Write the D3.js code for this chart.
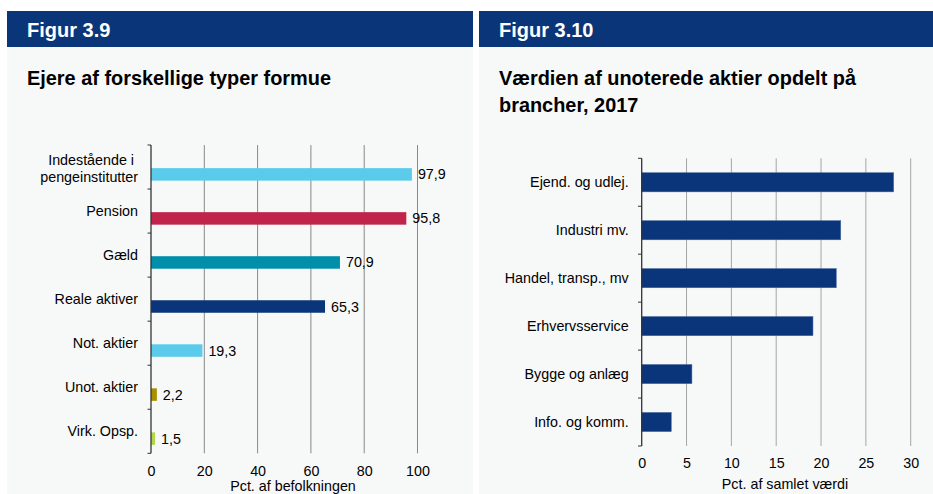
<!DOCTYPE html>
<html><head><meta charset="utf-8">
<script src="https://cdn.jsdelivr.net/npm/d3@7"></script>
<style>
html,body{margin:0;padding:0;background:#fff;}
svg{display:block;font-family:"Liberation Sans",Arial,sans-serif;}
</style></head>
<body>
<svg id="c" width="933" height="494"></svg>
<script>
// ---- Data ----
const leftCategories = ["Indestående i |pengeinstitutter","Pension","Gæld","Reale aktiver","Not. aktier","Unot. aktier","Virk. Opsp."];
const leftValues = [97.9, 95.8, 70.9, 65.3, 19.3, 2.2, 1.5];
const leftLabels = ["97,9","95,8","70,9","65,3","19,3","2,2","1,5"];
const leftColors = ["#5bcbeb","#c0244a","#008fab","#0b357a","#5bcbeb","#a88f00","#b3d647"];
const leftTicks = [0,20,40,60,80,100];
const leftAxisTitle = "Pct. af befolkningen";

const rightCategories = ["Ejend. og udlej.","Industri mv.","Handel, transp., mv","Erhvervsservice","Bygge og anlæg","Info. og komm."];
const rightValues = [28.1, 22.2, 21.7, 19.1, 5.6, 3.3];
const rightTicks = [0,5,10,15,20,25,30];
const rightAxisTitle = "Pct. af samlet værdi";

const svg = d3.select("#c");
const navy = "#0a3679";
const panelBg = "#f7f8f8";
const FS = 14.3;

// ---- Panels ----
function panel(x0, x1, figText, titleLines){
  svg.append("rect").attr("x",x0).attr("y",47).attr("width",x1-x0).attr("height",447).attr("fill",panelBg);
  svg.append("rect").attr("x",x0).attr("y",11).attr("width",x1-x0).attr("height",36).attr("fill",navy);
  svg.append("text").attr("x",x0+20).attr("y",36.5).attr("fill","#fff")
    .attr("font-size",20).attr("font-weight","bold").text(figText);
  titleLines.forEach((t,i)=>{
    svg.append("text").attr("x",x0+20).attr("y",85+i*26.5).attr("fill","#000")
      .attr("font-size",19.9).attr("font-weight","bold").text(t);
  });
}
panel(7, 473, "Figur 3.9", ["Ejere af forskellige typer formue"]);
panel(479, 933, "Figur 3.10", ["Værdien af unoterede aktier opdelt på","brancher, 2017"]);

// ---- Left chart ----
{
  const x = d3.scaleLinear().domain([0,100]).range([151,417.5]);
  const y = d3.scaleBand().domain(leftCategories).range([145,453.3]).padding(0);
  const bw = y.bandwidth();
  const g = svg.append("g");
  g.selectAll(".grid").data(leftTicks.filter(d=>d>0)).enter().append("line")
    .attr("x1",d=>x(d)).attr("x2",d=>x(d)).attr("y1",145).attr("y2",453.3)
    .attr("stroke","#888").attr("stroke-width",1);
  g.selectAll(".bar").data(leftCategories).enter().append("rect")
    .attr("x",x(0)).attr("y",(d)=>y(d)+bw*0.525)
    .attr("width",(d,i)=>x(leftValues[i])-x(0)).attr("height",12.5)
    .attr("fill",(d,i)=>leftColors[i]);
  g.selectAll(".val").data(leftCategories).enter().append("text")
    .attr("x",(d,i)=>x(leftValues[i])+6).attr("y",d=>y(d)+bw*0.525+6.25)
    .attr("dy","0.35em").attr("font-size",FS).attr("fill","#000")
    .text((d,i)=>leftLabels[i]);
  g.append("line").attr("x1",151).attr("x2",151).attr("y1",145).attr("y2",453.3).attr("stroke","#333").attr("stroke-width",1.3);
  const bounds = [y.range()[0]].concat(leftCategories.map(d=>y(d)+bw));
  g.selectAll(".ytick").data(bounds).enter().append("line")
    .attr("x1",147.5).attr("x2",151).attr("y1",d=>d).attr("y2",d=>d).attr("stroke","#333");
  leftCategories.forEach(c=>{
    const lines = c.split("|");
    const cy = y(c)+bw/2 - (lines.length>1 ? 7 : 0);
    const t = g.append("text").attr("text-anchor","end").attr("font-size",FS).attr("fill","#000")
      .attr("xml:space","preserve").style("white-space","pre");
    lines.forEach((ln,i)=>{
      t.append("tspan").attr("x",138).attr("y",cy + i*16.5).attr("dy","0.35em").text(ln);
    });
  });
  const xa = d3.axisBottom(x).tickValues(leftTicks).tickSize(0).tickPadding(0);
  const xg = g.append("g").attr("transform","translate(0,466)").call(xa);
  xg.select(".domain").remove();
  xg.selectAll("text").attr("font-size",FS).attr("fill","#000").attr("font-family","Liberation Sans, Arial, sans-serif").attr("dy","0.71em");
  g.append("text").attr("x",293).attr("y",486).attr("dy","0.35em").attr("text-anchor","middle")
    .attr("font-size",FS).attr("fill","#000").text(leftAxisTitle);
}

// ---- Right chart ----
{
  const x = d3.scaleLinear().domain([0,30]).range([641.7,910.7]);
  const y = d3.scaleBand().domain(rightCategories).range([158.3,446]).paddingInner(0.6).paddingOuter(0.3);
  const yb = d3.scaleBand().domain(rightCategories).range([158.3,446]).padding(0);
  const g = svg.append("g");
  g.selectAll(".grid").data(rightTicks.filter(d=>d>0)).enter().append("line")
    .attr("x1",d=>x(d)).attr("x2",d=>x(d)).attr("y1",158.3).attr("y2",446)
    .attr("stroke","#a6a6a6").attr("stroke-width",1);
  g.selectAll(".bar").data(rightCategories).enter().append("rect")
    .attr("x",x(0)).attr("y",d=>y(d))
    .attr("width",(d,i)=>x(rightValues[i])-x(0)).attr("height",y.bandwidth())
    .attr("fill","#0b357a").attr("stroke","#4a6aa0").attr("stroke-width",0.5);
  g.append("line").attr("x1",641.7).attr("x2",641.7).attr("y1",158.3).attr("y2",446).attr("stroke","#333").attr("stroke-width",1.3);
  const bounds = [158.3].concat(rightCategories.map(d=>yb(d)+yb.bandwidth()));
  g.selectAll(".ytick").data(bounds).enter().append("line")
    .attr("x1",638).attr("x2",641.7).attr("y1",d=>d).attr("y2",d=>d).attr("stroke","#333");
  const ya = d3.axisLeft(yb).tickSize(0).tickPadding(13);
  const yg = g.append("g").attr("transform","translate(641.7,0)").call(ya);
  yg.select(".domain").remove();
  yg.selectAll("text").attr("font-size",FS).attr("fill","#000").attr("font-family","Liberation Sans, Arial, sans-serif");
  const xa = d3.axisBottom(x).tickValues(rightTicks).tickSize(0).tickPadding(0);
  const xg = g.append("g").attr("transform","translate(0,458)").call(xa);
  xg.select(".domain").remove();
  xg.selectAll("text").attr("font-size",FS).attr("fill","#000").attr("font-family","Liberation Sans, Arial, sans-serif").attr("dy","0.71em");
  g.append("text").attr("x",785).attr("y",483.5).attr("dy","0.35em").attr("text-anchor","middle")
    .attr("font-size",FS).attr("fill","#000").text(rightAxisTitle);
}
</script>
</body></html>
